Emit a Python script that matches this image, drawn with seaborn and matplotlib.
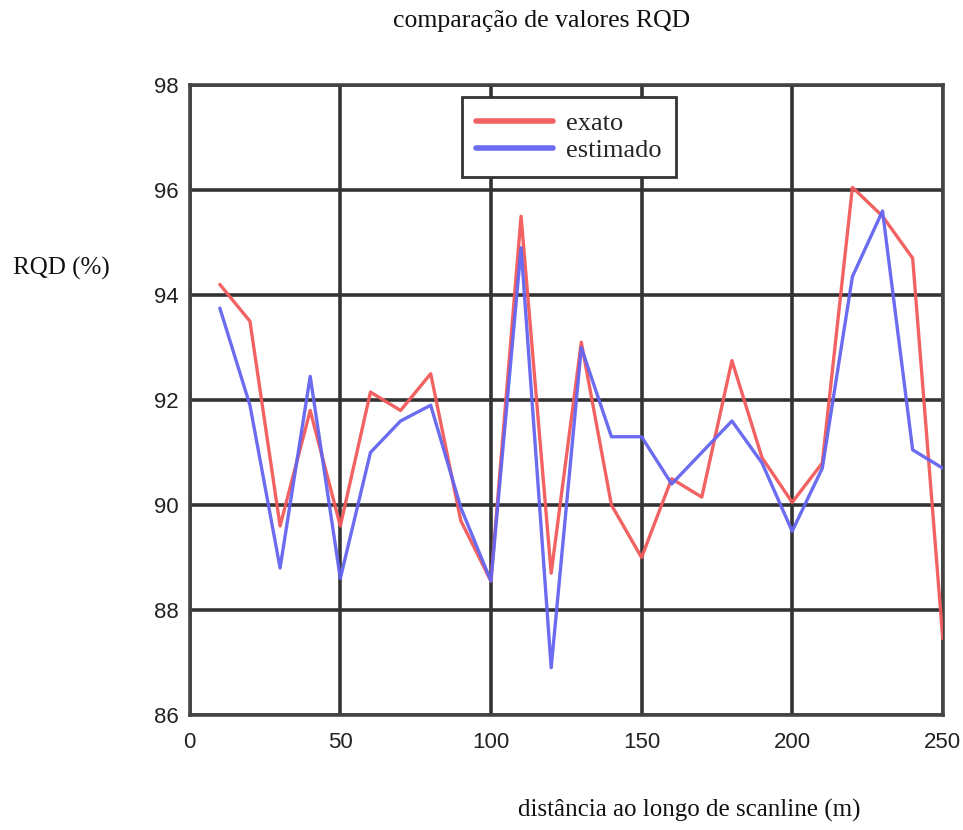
import matplotlib
matplotlib.use("Agg")
import matplotlib.pyplot as plt
import seaborn as sns
import pandas as pd

distance = [10, 20, 30, 40, 50, 60, 70, 80, 90, 100, 110, 120, 130, 140, 150,
            160, 170, 180, 190, 200, 210, 220, 230, 240, 250]
exato = [94.2, 93.5, 89.6, 91.8, 89.6, 92.15, 91.8, 92.5, 89.7, 88.55, 95.5, 88.7,
         93.1, 90.0, 89.0, 90.5, 90.15, 92.75, 90.9, 90.05, 90.8, 96.05, 95.5, 94.7, 87.45]
estimado = [93.75, 91.9, 88.8, 92.45, 88.6, 91.0, 91.6, 91.9, 89.95, 88.55, 94.9, 86.9,
            93.0, 91.3, 91.3, 90.4, 91.0, 91.6, 90.8, 89.5, 90.7, 94.35, 95.6, 91.05, 90.7]
series_names = ["exato", "estimado"]
x_ticks = [0, 50, 100, 150, 200, 250]
y_ticks = [86, 88, 90, 92, 94, 96, 98]

df = pd.DataFrame({
    "dist": distance * 2,
    "rqd": exato + estimado,
    "serie": [series_names[0]] * len(distance) + [series_names[1]] * len(distance),
})

sns.set_style("white")
plt.rcParams["font.family"] = ["Liberation Serif", "DejaVu Serif"]

fig = plt.figure(figsize=(9.63, 8.30), dpi=100)
ax = fig.add_axes([0.197, 0.1386, 0.782, 0.759])

sns.lineplot(data=df, x="dist", y="rqd", hue="serie", ax=ax,
             palette={"exato": "#f25a5a", "estimado": "#6464f0"},
             linewidth=2.4, alpha=0.95, legend=True, zorder=3)

ax.set_xlim(0, 250)
ax.set_ylim(86, 98)
ax.set_xticks(x_ticks)
ax.set_yticks(y_ticks)
ax.grid(True, color="#333333", linewidth=2.6, zorder=1)
ax.set_axisbelow(True)
for s in ax.spines.values():
    s.set_color("#444444")
    s.set_linewidth(2.6)
ax.tick_params(axis="both", labelsize=16, length=0, colors="#222222")
ax.tick_params(axis="x", pad=12)
ax.tick_params(axis="y", pad=8)
for lab in ax.get_xticklabels() + ax.get_yticklabels():
    lab.set_fontfamily(["Liberation Sans", "DejaVu Sans"])

ax.set_xlabel("")
ax.set_ylabel("")
fig.text(0.562, 0.975, "comparação de valores RQD", ha="center", va="center",
         fontsize=18.5, color="#111111")
fig.text(0.064, 0.677, "RQD (%)", ha="center", va="center", fontsize=18, color="#111111")
fig.text(0.716, 0.024, "distância ao longo de scanline (m)", ha="center", va="center",
         fontsize=18, color="#111111")

handles, labels = ax.get_legend_handles_labels()
for h in handles:
    h.set_linewidth(4)
leg = ax.legend(handles, labels, loc="upper left", bbox_to_anchor=(0.361, 0.981),
                borderaxespad=0, fontsize=19, frameon=True, fancybox=False,
                handlelength=2.9, handletextpad=0.5, labelspacing=0.15,
                borderpad=0.55)
leg.get_frame().set_edgecolor("#333333")
leg.get_frame().set_linewidth(2)
leg.get_frame().set_alpha(1)

fig.savefig("out.png", dpi=100)
